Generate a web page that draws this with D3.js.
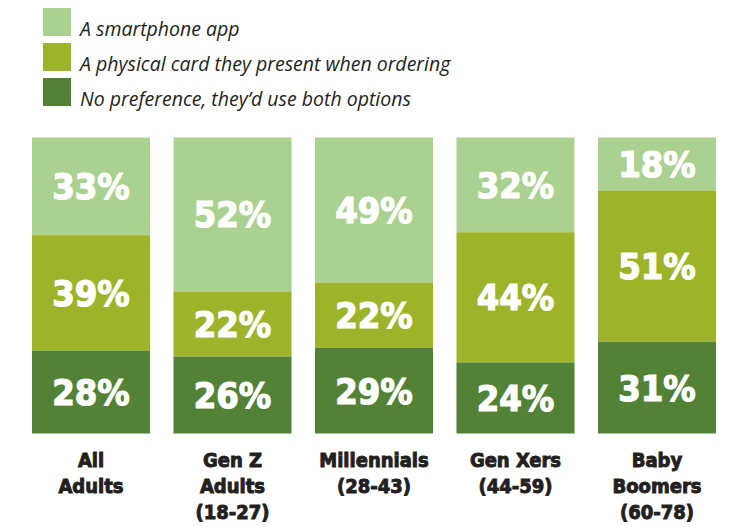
<!DOCTYPE html>
<html>
<head>
<meta charset="utf-8">
<script src="https://cdn.jsdelivr.net/npm/d3@7"></script>
<style>
  html, body { margin: 0; padding: 0; background: #fff; }
  svg { display: block; }
</style>
</head>
<body>
<svg id="chart" width="729" height="527"></svg>
<script>
// Survey groups (each label split into display lines)
const groups = ["All Adults", "Gen Z Adults (18-27)", "Millennials (28-43)", "Gen Xers (44-59)", "Baby Boomers (60-78)"];
const groupLines = [["All", "Adults"], ["Gen Z", "Adults", "(18-27)"], ["Millennials", "(28-43)"], ["Gen Xers", "(44-59)"], ["Baby", "Boomers", "(60-78)"]];

// Answer options, top of stack first
const options = ["A smartphone app", "A physical card they present when ordering", "No preference, they\u2019d use both options"];
const optionColors = ["#aad18f", "#9db32a", "#538237"];

// Percent shares per option, in group order
const appShare      = [33, 52, 49, 32, 18];
const cardShare     = [39, 22, 22, 44, 51];
const bothShare     = [28, 26, 29, 24, 31];

const series = [appShare, cardShare, bothShare];

const svg = d3.select("#chart");

const x = d3.scaleBand()
  .domain(groups)
  .range([32, 716])
  .paddingInner(0.166)
  .paddingOuter(0);

const y = d3.scaleLinear()
  .domain([0, 100])
  .range([137.5, 433.5]);

// Stack from the top down: app, card, then both
const rows = groups.map((g, i) => {
  let acc = 0;
  return series.map((s, k) => {
    const seg = { group: g, k, value: s[i], y0: acc, y1: acc + s[i] };
    acc += s[i];
    return seg;
  });
});

const bars = svg.append("g");
rows.forEach(segs => {
  const g = bars.append("g");
  g.selectAll("rect")
    .data(segs)
    .join("rect")
    .attr("x", d => x(d.group))
    .attr("width", x.bandwidth())
    .attr("y", d => y(d.y0))
    .attr("height", d => y(d.y1) - y(d.y0))
    .attr("fill", d => optionColors[d.k]);

  g.selectAll("text")
    .data(segs)
    .join("text")
    .attr("x", d => x(d.group) + x.bandwidth() / 2)
    .attr("y", d => (y(d.y0) + y(d.y1)) / 2)
    .attr("dy", "0.36em")
    .attr("text-anchor", "middle")
    .attr("fill", "#fff")
    .style("font-family", "'DejaVu Sans Condensed', 'DejaVu Sans', sans-serif")
    .style("font-stretch", "condensed")
    .style("font-weight", "bold")
    .style("font-size", "36px")
    .style("stroke", "#fff")
    .style("stroke-width", "1.2px")
    .text(d => d.value + "%");
});

// Group labels under each bar
const labels = svg.append("g");
groups.forEach((g, i) => {
  const t = labels.append("text")
    .attr("x", x(g) + x.bandwidth() / 2)
    .attr("y", 467)
    .attr("text-anchor", "middle")
    .attr("fill", "#231f20")
    .style("font-family", "'DejaVu Sans Condensed', 'DejaVu Sans', sans-serif")
    .style("font-stretch", "condensed")
    .style("font-weight", "bold")
    .style("font-size", "20px")
    .style("stroke", "#231f20")
    .style("stroke-width", "0.9px");
  groupLines[i].forEach((line, j) => {
    t.append("tspan")
      .attr("x", x(g) + x.bandwidth() / 2)
      .attr("y", 467 + j * 26)
      .text(line);
  });
});

// Legend
const legend = svg.append("g");
options.forEach((o, k) => {
  legend.append("rect")
    .attr("x", 43)
    .attr("y", 8 + k * 35)
    .attr("width", 28)
    .attr("height", 28)
    .attr("fill", optionColors[k]);
  legend.append("text")
    .attr("x", 80)
    .attr("y", 35.5 + k * 35)
    .attr("fill", "#231f20")
    .style("font-family", "'Open Sans', sans-serif")
    .style("font-style", "italic")
    .style("font-size", "19.5px")
    .text(o);
});
</script>
</body>
</html>
